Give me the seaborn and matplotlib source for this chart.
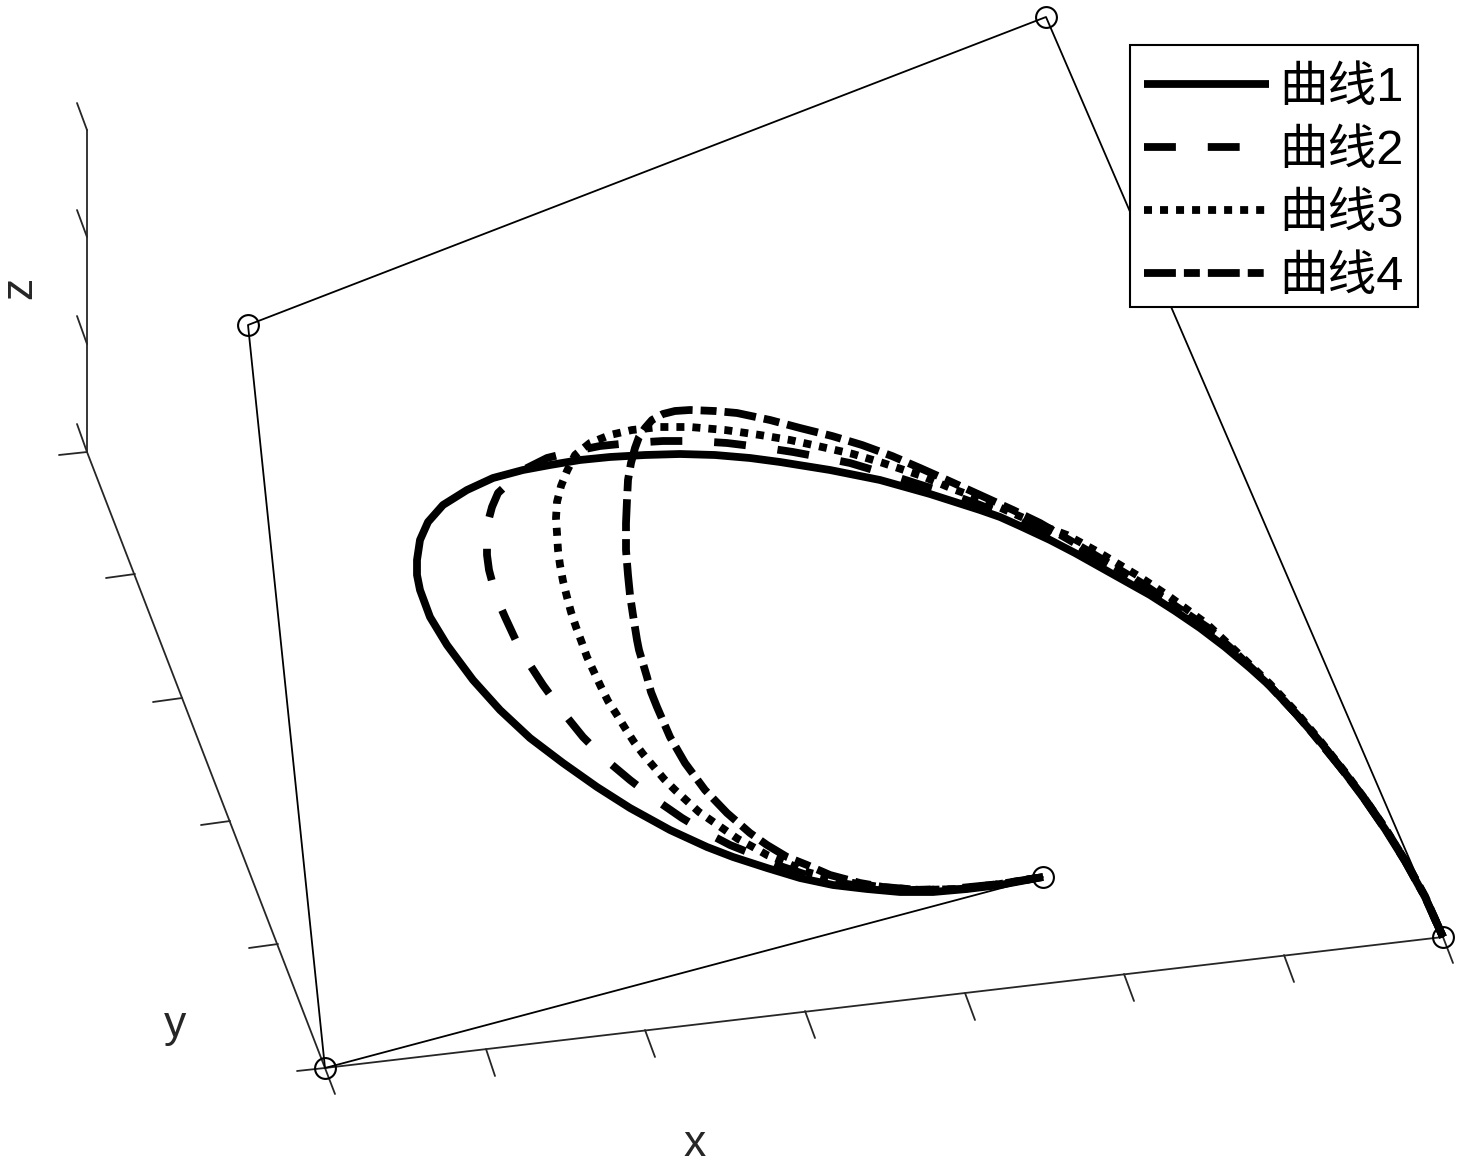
# 3D view of four curves and their control polygon in screen coordinates
import matplotlib.pyplot as plt
from matplotlib.patches import Rectangle
import seaborn as sns

# curves, from the right end point over the top and down to the inner end point
curve1_x = [1443, 1425, 1405, 1385, 1365, 1345, 1322, 1297, 1270, 1250, 1225, 1200, 1175, 1150, 1125, 1100, 1075, 1050, 1020, 1000, 980, 955, 930, 905, 880, 855, 830, 805, 780, 750, 715, 680, 645, 610, 580, 550, 523, 493, 467, 443, 428, 420, 417, 417, 420, 430, 447, 473, 500, 530, 563, 597, 630, 670, 707, 733, 767, 800, 833, 867, 900, 933, 967, 1000, 1043]
curve1_y = [937, 897, 861, 829, 800, 773, 744, 715, 686, 668, 647, 628, 611, 595, 581, 567, 553, 540, 526, 517, 510, 502, 494, 487, 480, 475, 470, 466, 462, 458, 455, 454, 455, 457, 460, 465, 470, 478, 490, 505, 522, 540, 560, 575, 590, 617, 645, 680, 710, 738, 763, 787, 808, 830, 847, 857, 868, 878, 885, 889, 892, 892, 889, 885, 877]
curve2_x = [1443, 1425, 1405, 1385, 1365, 1345, 1322, 1297, 1270, 1250, 1225, 1200, 1150, 1100, 1050, 1010, 980, 950, 915, 890, 850, 820, 793, 760, 727, 695, 663, 630, 600, 575, 547, 527, 512, 498, 492, 488, 487, 487, 489, 493, 498, 505, 518, 530, 543, 562, 583, 605, 630, 656, 682, 707, 730, 750, 777, 807, 840, 875, 910, 950, 1000, 1043]
curve2_y = [937, 897, 861, 829, 800, 773, 744, 715, 685, 667, 646, 626, 592, 563, 535, 517, 505, 494, 483, 475, 463, 457, 452, 447, 443, 441, 441, 443, 446, 451, 458, 468, 480, 493, 507, 522, 538, 555, 570, 585, 601, 617, 645, 665, 685, 711, 737, 759, 780, 800, 818, 833, 845, 853, 865, 875, 883, 888, 890, 889, 884, 877]
curve3_x = [1443, 1425, 1405, 1385, 1365, 1345, 1322, 1297, 1270, 1240, 1207, 1170, 1140, 1100, 1067, 1040, 1010, 983, 953, 922, 883, 853, 822, 790, 760, 725, 690, 660, 632, 610, 590, 575, 567, 561, 557, 556, 557, 558, 560, 563, 567, 571, 576, 582, 587, 594, 601, 608, 617, 625, 634, 643, 654, 664, 675, 687, 699, 712, 725, 738, 753, 767, 787, 807, 840, 880, 920, 960, 1000, 1043]
curve3_y = [937, 897, 860, 828, 799, 772, 743, 713, 684, 655, 624, 597, 577, 553, 535, 525, 512, 500, 489, 476, 463, 454, 447, 440, 435, 430, 427, 427, 430, 435, 443, 455, 471, 486, 502, 518, 533, 550, 565, 581, 597, 612, 627, 643, 657, 672, 687, 701, 715, 728, 742, 754, 767, 779, 790, 801, 812, 821, 830, 839, 847, 855, 863, 872, 881, 887, 890, 889, 884, 877]
curve4_x = [1443, 1425, 1405, 1385, 1365, 1340, 1300, 1267, 1233, 1207, 1177, 1140, 1090, 1040, 1013, 980, 947, 920, 892, 862, 832, 800, 770, 737, 715, 690, 675, 663, 652, 645, 639, 635, 631, 628, 627, 626, 626, 628, 630, 633, 637, 639, 647, 651, 657, 670, 685, 705, 727, 750, 767, 787, 807, 830, 860, 883, 920, 960, 1000, 1043]
curve4_y = [937, 896, 860, 828, 799, 767, 718, 683, 650, 627, 607, 582, 552, 523, 510, 495, 480, 468, 456, 445, 436, 428, 420, 413, 411, 410, 411, 414, 420, 428, 437, 448, 463, 480, 500, 523, 550, 575, 595, 615, 640, 650, 677, 692, 707, 737, 763, 790, 813, 833, 845, 857, 865, 875, 883, 887, 890, 889, 884, 877]

# control polygon
poly_x = [1443, 1046, 248, 325, 1043]
poly_y = [937, 17, 325, 1068, 877]

# axis lines
axis_x = [87, 87, 325, 1443]
axis_y = [130, 452, 1068, 937]

# tick marks, start and end
x_ticks = [(325, 1068, 335, 1094), (486, 1049, 495, 1076), (645, 1030, 655, 1057), (805, 1011, 815, 1038),
           (965, 993, 975, 1020), (1124, 974, 1134, 1001), (1284, 955, 1294, 982), (1443, 937, 1453, 963)]
y_ticks = [(87, 452, 59, 455), (135, 574, 106, 578), (182, 698, 153, 702), (230, 821, 201, 825),
           (278, 944, 249, 948), (325, 1068, 297, 1071)]
z_ticks = [(87, 130, 77, 103), (87, 237, 77, 210), (87, 344, 77, 316), (87, 452, 77, 424)]

labels = ['曲线1', '曲线2', '曲线3', '曲线4']
curves = [(curve1_x, curve1_y), (curve2_x, curve2_y), (curve3_x, curve3_y), (curve4_x, curve4_y)]
dashes = [(None, None), (4.1, 4.1), (1.03, 1.03), (4.1, 1.03, 2.05, 1.03)]

sns.set_theme(style='white')
plt.rcParams['font.family'] = ['Liberation Sans', 'Noto Sans CJK SC']

fig = plt.figure(figsize=(14.64, 11.63), dpi=100)
ax = fig.add_axes([0, 0, 1, 1])
ax.set_xlim(0, 1464)
ax.set_ylim(1163, 0)
ax.axis('off')

# axes of the 3D box
grey = '#262626'
sns.lineplot(x=axis_x, y=axis_y, sort=False, estimator=None, color=grey, lw=1.3, ax=ax)
for x0, y0, x1, y1 in x_ticks + y_ticks + z_ticks:
    sns.lineplot(x=[x0, x1], y=[y0, y1], sort=False, estimator=None, color=grey, lw=1.3, ax=ax)

# control polygon with circles
sns.lineplot(x=poly_x, y=poly_y, sort=False, estimator=None, color='black', lw=1.3, ax=ax)
ax.plot(poly_x, poly_y, ls='none', marker='o', ms=15, mfc='none', mec='black', mew=1.5)

# curves
for (cx, cy), lab, d in zip(curves, labels, dashes):
    line = sns.lineplot(x=cx, y=cy, sort=False, estimator=None, color='black', lw=5.6, label=lab, ax=ax).lines[-1]
    line.set_solid_capstyle('butt')
    line.set_dash_capstyle('butt')
    line.set_solid_joinstyle('round')
    if d[0] is not None:
        line.set_dashes(d)

# legend box is separate, the text sits lower in it than a legend frame allows
ax.add_patch(Rectangle((1130, 45), 288, 262, fc='white', ec='black', lw=1.5, zorder=4))
leg = ax.legend(loc='upper left', bbox_to_anchor=(1130 / 1464, 1 - 52 / 1163), borderaxespad=0,
                fontsize=35, frameon=False,
                handlelength=2.57, handletextpad=0.23, labelspacing=0.375, borderpad=0.28)
for txt in leg.get_texts():
    txt.set_color('black')

ax.text(695, 1145, 'x', fontsize=32, color=grey, ha='center', va='center')
ax.text(175, 1025, 'y', fontsize=32, color=grey, ha='center', va='center')
ax.text(20, 288, 'z', fontsize=32, color=grey, ha='center', va='center', rotation=90)

fig.savefig('out.png', dpi=100)
